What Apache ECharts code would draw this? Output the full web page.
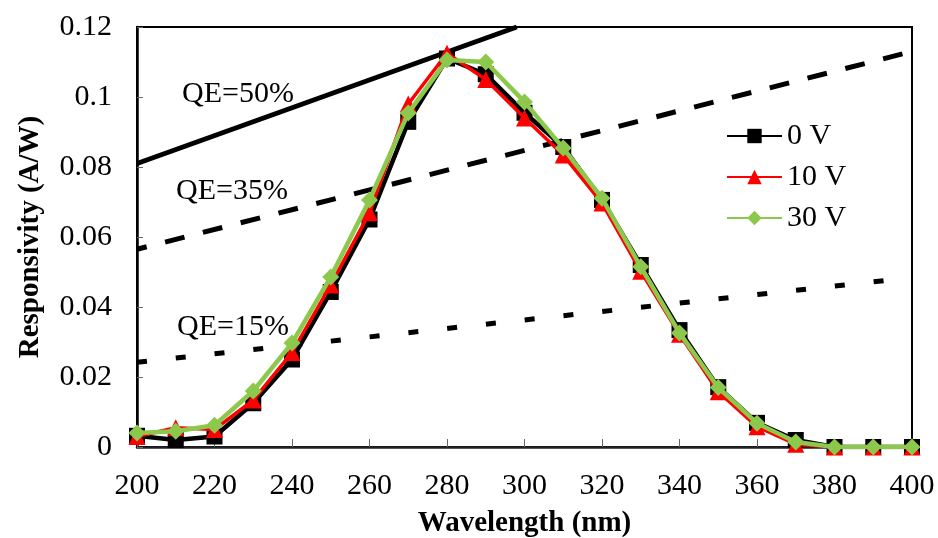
<!DOCTYPE html>
<html>
<head>
<meta charset="utf-8">
<script src="https://cdn.jsdelivr.net/npm/echarts@6/dist/echarts.min.js"></script>
<style>
  html, body { margin: 0; padding: 0; background: #fff; }
  #chart { width: 938px; height: 538px; }
</style>
</head>
<body>
<div id="chart"></div>
<script>
// Wavelength grid (nm) and measured responsivity (A/W) at each bias
const wavelengths = [200, 210, 220, 230, 240, 250, 260, 270, 280, 290, 300,
                     310, 320, 330, 340, 350, 360, 370, 380, 390, 400];
const resp0V  = [0.0032, 0.0020, 0.0030, 0.0125, 0.0250, 0.0443, 0.0650, 0.0929, 0.1110, 0.1065, 0.0955,
                 0.0857, 0.0706, 0.0520, 0.0334, 0.0171, 0.0069, 0.0020, 0, 0, 0];
const resp10V = [0.0030, 0.0055, 0.0050, 0.0134, 0.0270, 0.0463, 0.0669, 0.0980, 0.1125, 0.1050, 0.0940,
                 0.0834, 0.0697, 0.0502, 0.0322, 0.0158, 0.0058, 0.0008, 0, 0, 0];
const resp30V = [0.0040, 0.0045, 0.0062, 0.0160, 0.0297, 0.0486, 0.0706, 0.0954, 0.1106, 0.1100, 0.0986,
                 0.0854, 0.0711, 0.0515, 0.0326, 0.0170, 0.0068, 0.0014, 0, 0, 0];

// Constant quantum-efficiency reference lines (end points, nm / A/W)
const qe50Line = [[200, 0.081], [298, 0.12]];
const qe35Line = [[200, 0.0565], [400, 0.113]];
const qe15Line = [[200, 0.0242], [400, 0.0484]];

const seriesNames = ['0 V', '10 V', '30 V'];
const qeLabels = ['QE=50%', 'QE=35%', 'QE=15%'];
const xTickLabels = ['200', '220', '240', '260', '280', '300', '320', '340', '360', '380', '400'];
const yTickLabels = ['0', '0.02', '0.04', '0.06', '0.08', '0.1', '0.12'];

const serif = '"Liberation Serif", "Times New Roman", serif';
const pair = (ys) => wavelengths.map((w, i) => [w, ys[i]]);

const chart = echarts.init(document.getElementById('chart'), null, { renderer: 'canvas' });

const refLine = (data, dash, offset) => ({
  type: 'line',
  data: data,
  showSymbol: false,
  silent: true,
  z: 1,
  lineStyle: { color: '#000', width: 5, type: dash, dashOffset: offset || 0, cap: 'butt' }
});

chart.setOption({
  animation: false,
  backgroundColor: '#fff',
  grid: {
    left: 137, right: 26, top: 27, bottom: 91,
    outerBoundsMode: 'none',
    containLabel: false,
    show: true, borderColor: '#000', borderWidth: 2, backgroundColor: 'transparent'
  },
  legend: {
    data: seriesNames,
    orient: 'vertical',
    left: 721,
    top: 116,
    itemWidth: 55,
    itemHeight: 18,
    itemGap: 11,
    textStyle: { fontFamily: serif, fontSize: 30, color: '#000', lineHeight: 30 }
  },
  xAxis: {
    type: 'value',
    min: 200, max: 400, interval: 20,
    name: 'Wavelength (nm)',
    nameLocation: 'middle',
    nameGap: 62,
    nameTextStyle: { fontFamily: serif, fontSize: 29, fontWeight: 'bold', color: '#000' },
    axisLine: { lineStyle: { color: '#222', width: 2.5 } },
    axisTick: { inside: true, length: 8, lineStyle: { color: '#666', width: 1 } },
    axisLabel: {
      margin: 24, fontFamily: serif, fontSize: 30, color: '#000',
      formatter: (v) => xTickLabels[Math.round((v - 200) / 20)]
    },
    splitLine: { show: false }
  },
  yAxis: {
    type: 'value',
    min: 0, max: 0.12, interval: 0.02,
    name: 'Responsivity (A/W)',
    nameLocation: 'middle',
    nameGap: 92,
    nameTextStyle: { fontFamily: serif, fontSize: 29, fontWeight: 'bold', color: '#000' },
    axisLine: { show: true, lineStyle: { color: '#000', width: 2.5 } },
    axisTick: { show: true, inside: true, length: 6, lineStyle: { color: '#666', width: 1 } },
    axisLabel: {
      margin: 25, fontFamily: serif, fontSize: 30, color: '#000',
      formatter: (v) => yTickLabels[Math.round(v / 0.02)]
    },
    splitLine: { show: false }
  },
  graphic: [
    { type: 'text', x: 182, y: 94, style: { text: qeLabels[0], font: '30px ' + serif, fill: '#000', verticalAlign: 'middle' } },
    { type: 'text', x: 176, y: 191, style: { text: qeLabels[1], font: '30px ' + serif, fill: '#000', verticalAlign: 'middle' } },
    { type: 'text', x: 177, y: 327, style: { text: qeLabels[2], font: '30px ' + serif, fill: '#000', verticalAlign: 'middle' } }
  ],
  series: [
    refLine(qe50Line, 'solid'),
    refLine(qe35Line, [20, 19], 10),
    refLine(qe15Line, [10, 29], 0),
    {
      name: seriesNames[0], type: 'line', data: pair(resp0V), z: 3,
      symbol: 'rect', symbolSize: 16,
      itemStyle: { color: '#000' },
      lineStyle: { color: '#000', width: 4.5 }
    },
    {
      name: seriesNames[1], type: 'line', data: pair(resp10V), z: 4,
      symbol: 'triangle', symbolSize: 17,
      itemStyle: { color: '#ff0000' },
      lineStyle: { color: '#ff0000', width: 3.5 }
    },
    {
      name: seriesNames[2], type: 'line', data: pair(resp30V), z: 5,
      symbol: 'diamond', symbolSize: 17,
      itemStyle: { color: '#8cc84b' },
      lineStyle: { color: '#8cc84b', width: 4.5 }
    }
  ]
});
</script>
</body>
</html>
